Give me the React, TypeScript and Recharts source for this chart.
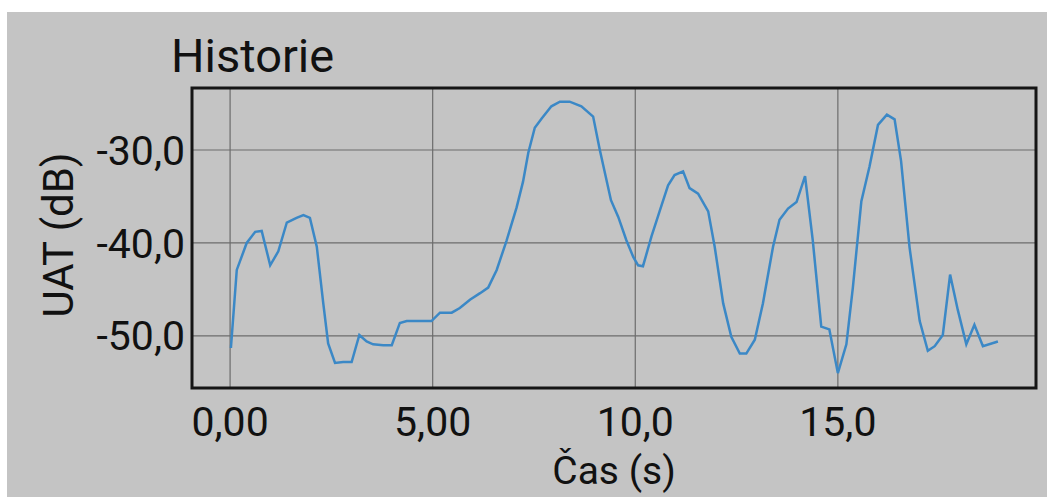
import React from 'react';
import { LineChart, Line, XAxis, YAxis, CartesianGrid, ReferenceArea } from 'recharts';

const timeSeconds = [
  0.02, 0.165, 0.41, 0.62, 0.78, 0.99, 1.19, 1.4, 1.64, 1.81, 1.97, 2.14, 2.3, 2.42, 2.59, 2.79, 3.0,
  3.19, 3.37, 3.53, 3.78, 3.99, 4.19, 4.36, 4.69, 4.97, 5.18, 5.47, 5.67, 5.92, 6.17, 6.37, 6.58,
  6.82, 7.07, 7.23, 7.36, 7.52, 7.69, 7.93, 8.14, 8.38, 8.67, 8.96, 9.12, 9.4, 9.58, 9.78, 9.95,
  10.07, 10.19, 10.4, 10.6, 10.81, 10.97, 11.18, 11.34, 11.55, 11.8, 11.96, 12.17, 12.37, 12.58,
  12.74, 12.95, 13.15, 13.4, 13.56, 13.77, 13.98, 14.19, 14.38, 14.59, 14.79, 15.0, 15.21, 15.37,
  15.58, 15.78, 15.99, 16.21, 16.4, 16.56, 16.77, 17.02, 17.22, 17.39, 17.59, 17.77, 17.96, 18.17,
  18.37, 18.58, 18.95,
];

const uatValues = [
  -51.3, -42.9, -40.0, -38.8, -38.7, -42.4, -40.9, -37.8, -37.3, -37.0, -37.3, -40.4, -46.5, -50.8,
  -52.9, -52.8, -52.8, -49.9, -50.6, -50.9, -51.0, -51.0, -48.6, -48.4, -48.4, -48.4, -47.5, -47.5,
  -47.0, -46.1, -45.4, -44.8, -42.9, -39.8, -36.2, -33.4, -30.3, -27.6, -26.6, -25.3, -24.8, -24.8,
  -25.3, -26.4, -29.9, -35.4, -37.2, -39.7, -41.5, -42.4, -42.5, -39.3, -36.6, -33.8, -32.7, -32.3,
  -34.1, -34.7, -36.6, -40.4, -46.5, -50.1, -51.9, -51.9, -50.4, -46.5, -40.4, -37.5, -36.3, -35.6,
  -32.8, -39.7, -49.0, -49.3, -54.0, -50.9, -44.8, -35.5, -31.8, -27.3, -26.2, -26.7, -31.2, -40.5,
  -48.4, -51.6, -51.1, -49.9, -43.4, -47.2, -50.9, -48.8, -51.1, -50.6,
];

const xTicks = [0, 5, 10, 15];
const xTickLabels = ['0,00', '5,00', '10,0', '15,0'];
const yTicks = [-50, -40, -30];
const yTickLabels = ['-50,0', '-40,0', '-30,0'];

const xDomain: [number, number] = [-0.94, 19.89];
const yDomain: [number, number] = [-55.6, -23.33];

const data = timeSeconds.map((t, i) => ({ t, v: uatValues[i] }));

const FONT = 'Roboto, "Noto Sans", sans-serif';

export default function App() {
  return (
    <div style={{ position: 'absolute', left: 0, top: 0, width: 1047, height: 497, background: '#ffffff', overflow: 'hidden' }}>
      <div style={{ position: 'absolute', left: 7, top: 12, width: 1040, height: 485, background: '#c4c4c4' }}>
        <LineChart width={1040} height={485} data={data} margin={{ top: 76, right: 11, bottom: 0, left: 0 }}>
          <CartesianGrid stroke="#6c6c6c" strokeWidth={1.2} />
          <XAxis
            type="number"
            dataKey="t"
            domain={xDomain}
            allowDataOverflow
            ticks={xTicks}
            tickFormatter={(v: number) => xTickLabels[xTicks.indexOf(v)] ?? String(v)}
            height={109}
            tickSize={0}
            tickMargin={19}
            axisLine={false}
            tickLine={false}
            tick={{ fill: '#111111', fontSize: 41, fontFamily: FONT }}
          />
          <YAxis
            type="number"
            domain={yDomain}
            allowDataOverflow
            ticks={yTicks}
            tickFormatter={(v: number) => yTickLabels[yTicks.indexOf(v)] ?? String(v)}
            width={185}
            tickSize={0}
            tickMargin={7}
            axisLine={false}
            tickLine={false}
            tick={{ fill: '#111111', fontSize: 41, fontFamily: FONT }}
          />
          <Line
            type="linear"
            dataKey="v"
            stroke="#3b88c6"
            strokeWidth={2.5}
            dot={false}
            activeDot={false}
            isAnimationActive={false}
          />
          <ReferenceArea
            x1={xDomain[0]}
            x2={xDomain[1]}
            y1={yDomain[0]}
            y2={yDomain[1]}
            fill="none"
            fillOpacity={0}
            stroke="#151515"
            strokeWidth={3}
            ifOverflow="visible"
          />
        </LineChart>
        <svg
          width={1040}
          height={485}
          style={{ position: 'absolute', left: 0, top: 0, pointerEvents: 'none' }}
        >
          <text x={164} y={60} fontSize={47} fontFamily={FONT} fill="#111111">Historie</text>
          <text
            x={66}
            y={223}
            fontSize={42}
            fontFamily={FONT}
            fill="#111111"
            textAnchor="middle"
            transform="rotate(-90 66 223)"
          >
            UAT (dB)
          </text>
          <text x={607} y={472} fontSize={39} fontFamily={FONT} fill="#111111" textAnchor="middle">Čas (s)</text>
        </svg>
      </div>
    </div>
  );
}
